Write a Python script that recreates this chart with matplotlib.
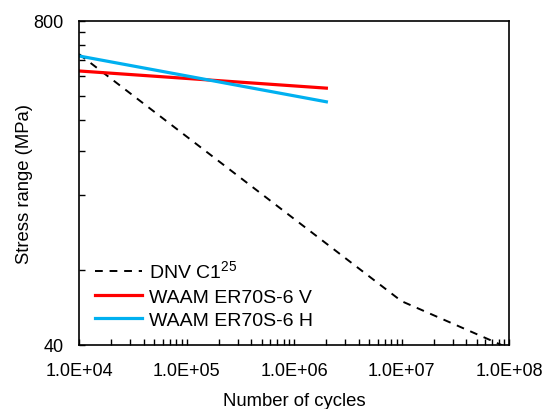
import matplotlib
matplotlib.use('Agg')
import matplotlib.pyplot as plt
from matplotlib.ticker import FixedLocator, NullFormatter

plt.rcParams['font.family'] = ['Liberation Sans', 'DejaVu Sans']
plt.rcParams['mathtext.fontset'] = 'custom'
plt.rcParams['mathtext.rm'] = 'Liberation Sans'

# DNV C1 design curve
dnv_n = [1e4, 1e7, 1e8]
dnv_s = [589, 60, 38.8]

# WAAM fitted S-N lines
waam_n = [1e4, 2e6]
waam_v = [504, 430]
waam_h = [579, 379]

x_ticks = [1e4, 1e5, 1e6, 1e7, 1e8]
x_labels = ['1.0E+04', '1.0E+05', '1.0E+06', '1.0E+07', '1.0E+08']
y_ticks = [40, 800]
y_labels = ['40', '800']

fig = plt.figure(figsize=(5.52, 4.10), dpi=100)
ax = fig.add_axes([79 / 552, 1 - 346 / 410, 430 / 552, 324 / 410])

ax.plot(dnv_n, dnv_s, color='black', lw=1.4, ls=(0, (4, 3.5)), label='DNV C1$^{25}$')
ax.plot(waam_n, waam_v, color='#FF0000', lw=2.3, label='WAAM ER70S-6 V')
ax.plot(waam_n, waam_h, color='#00B0F0', lw=2.3, label='WAAM ER70S-6 H')

ax.set_xscale('log')
ax.set_yscale('log')
ax.set_xlim(1e4, 1e8)
ax.set_ylim(40, 800)

ax.xaxis.set_major_locator(FixedLocator(x_ticks))
ax.set_xticklabels(x_labels)
x_minor = [m * 10 ** k for k in range(4, 8) for m in range(2, 10)]
ax.xaxis.set_minor_locator(FixedLocator(x_minor))
ax.xaxis.set_minor_formatter(NullFormatter())

ax.yaxis.set_major_locator(FixedLocator(y_ticks))
ax.set_yticklabels(y_labels)
ax.yaxis.set_minor_locator(FixedLocator(list(range(80, 800, 80))))
ax.yaxis.set_minor_formatter(NullFormatter())

ax.tick_params(which='both', direction='in', length=4, width=1, labelsize=13)
ax.tick_params(axis='x', which='major', pad=12)
ax.tick_params(axis='y', which='major', pad=11)
for sp in ax.spines.values():
    sp.set_linewidth(1.2)

ax.set_xlabel('Number of cycles', fontsize=13.3)
ax.set_ylabel('Stress range (MPa)', fontsize=13.3)
ax.xaxis.set_label_coords(0.5, (346 - 393) / 324)
ax.yaxis.set_label_coords((33 - 79) / 430, 0.5)

ax.legend(loc='lower left', frameon=False, fontsize=14, handlelength=2.4,
          handletextpad=0.35, labelspacing=0.3, borderaxespad=0,
          bbox_to_anchor=(0.02, 0.025))

fig.savefig('out.png', dpi=100)
